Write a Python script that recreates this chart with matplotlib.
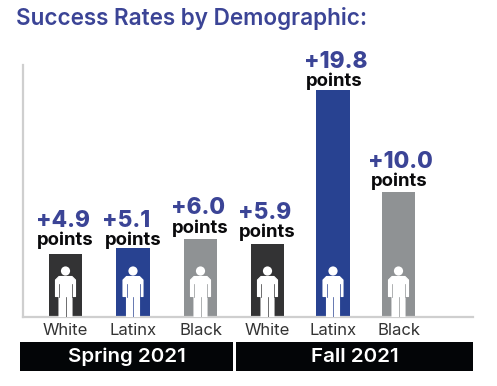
"""Success rates by demographic, two terms"""

import matplotlib.pyplot as plt
from matplotlib.patches import Circle, PathPatch, Rectangle
from matplotlib.path import Path

W, H = 497, 386
FONT = "Inter"

groups = ["White", "Latinx", "Black", "White", "Latinx", "Black"]
gains = ["+4.9", "+5.1", "+6.0", "+5.9", "+19.8", "+10.0"]
# bars in the source are not to scale with the gains, heights are as drawn
bar_heights = [63, 69, 78, 73, 227, 125]
terms = ["Spring 2021", "Fall 2021"]

colors = ["#333334", "#284291", "#8f9294", "#333334", "#284291", "#8f9294"]
BLUE_TEXT = "#3b4496"
AXIS_GRAY = "#cfcfcf"

# layout, in reference pixels
x_pos = [65.5, 133, 200.5, 267.5, 333, 398.5]
bar_width = 33.5
points_x = [65, 132.7, 200.5, 267, 334, 399]
value_x = [62.7, 126, 197.7, 265, 336, 400]
points_gap = [9, 3, 6.3, 7, 4, 6]
term_bands = [(20, 233), (236, 472.5)]
term_x = [127, 355]


def person(ax, x, color):
    """White figure standing on the baseline, slits in the bar colour"""
    body = [
        (-6.5, 40.5), (6.5, 40.5), (10, 37), (10, 20.5), (6.5, 20.5),
        (6.5, 0.5), (-6.5, 0.5), (-6.5, 20.5), (-10, 20.5), (-10, 37),
        (-6.5, 40.5),
    ]
    verts = [(x + a, b) for a, b in body]
    codes = [Path.MOVETO] + [Path.LINETO] * (len(verts) - 2) + [Path.CLOSEPOLY]
    ax.add_patch(PathPatch(Path(verts, codes), fc="white", ec="white", lw=0.8,
                           joinstyle="round", zorder=3))
    ax.add_patch(Circle((x, 46), 4.6, fc="white", ec="none", zorder=3))
    ax.plot([x, x], [0, 20], color=color, lw=0.5, zorder=4)
    ax.plot([x - 6.5, x - 6.5], [20.5, 33], color=color, lw=0.5, zorder=4)
    ax.plot([x + 6.5, x + 6.5], [20.5, 33], color=color, lw=0.5, zorder=4)


fig = plt.figure(figsize=(W / 100, H / 100), dpi=100)
ax = fig.add_axes([22.5 / W, (H - 317) / H, (472.5 - 22.5) / W, 252 / H])
ax.set_xlim(22.5, 472.5)
ax.set_ylim(0, 252)

ax.bar(x_pos, bar_heights, width=bar_width, color=colors, zorder=2)
for x, c in zip(x_pos, colors):
    person(ax, x, c)

for i, (gain, h) in enumerate(zip(gains, bar_heights)):
    base = h + points_gap[i]
    ax.text(points_x[i], base, "points", ha="center", va="baseline",
            fontsize=13.4, fontweight="bold", color="#0a0a0c", family=FONT)
    ax.text(value_x[i], base + 18.3, gain, ha="center", va="baseline",
            fontsize=16.3, fontweight=800, color=BLUE_TEXT, family=FONT)

ax.set_xticks(x_pos, groups, fontsize=12, color="#333333", family=FONT)
ax.tick_params(axis="x", length=0, pad=4.5)
ax.set_yticks([])
for side in ["top", "right"]:
    ax.spines[side].set_visible(False)
for side in ["left", "bottom"]:
    ax.spines[side].set_color(AXIS_GRAY)
    ax.spines[side].set_linewidth(1.6)

for (x0, x1), term, tx in zip(term_bands, terms, term_x):
    ax.add_patch(Rectangle((x0, -54), x1 - x0, 29, fc="#030507", ec="none", clip_on=False))
    ax.text(tx, -39.5, term, ha="center", va="center", fontsize=14.8,
            fontweight="semibold", color="white", family=FONT)

fig.text(16 / W, 1 - 25 / H, "Success Rates by Demographic:", ha="left", va="baseline",
         fontsize=16.2, fontweight="semibold", color=BLUE_TEXT, family=FONT)

fig.savefig("out.png", dpi=100)
